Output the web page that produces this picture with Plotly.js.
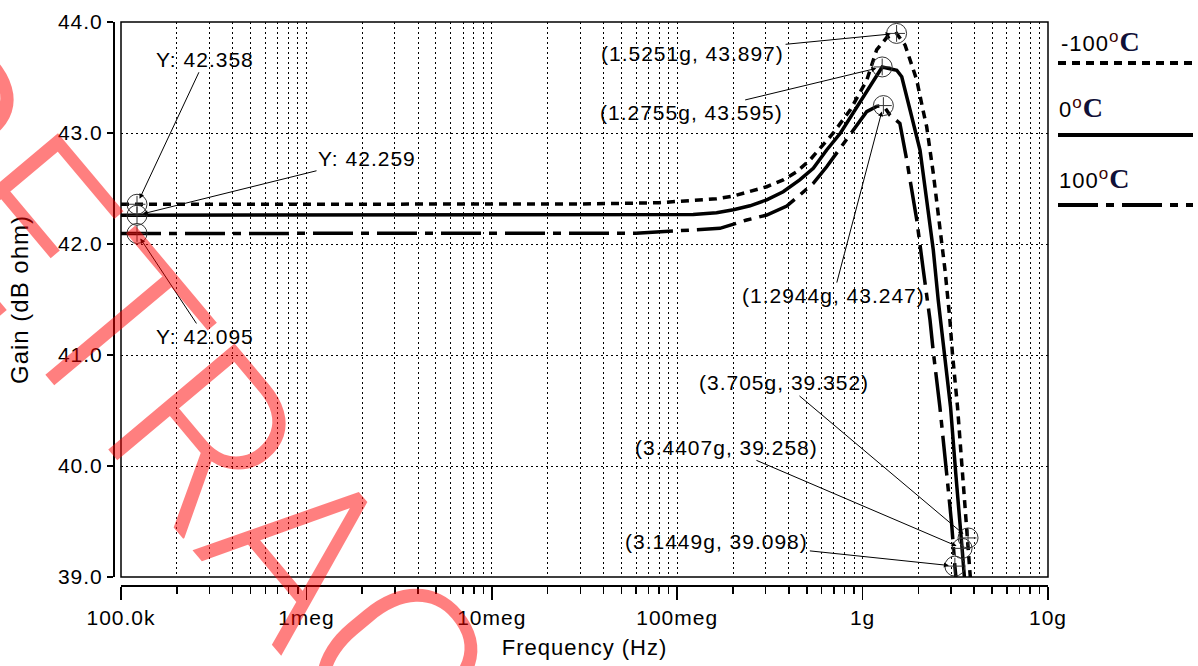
<!DOCTYPE html>
<html><head><meta charset="utf-8">
<script src="https://cdn.plot.ly/plotly-3.0.1.min.js"></script>
<style>
html,body{margin:0;padding:0;background:#fff;}
#chart{width:1198px;height:666px;}
svg text{letter-spacing:1px;}
</style></head><body><div id="chart"></div>
<script>
// ---- data ----
const tickVals = [1e5, 1e6, 1e7, 1e8, 1e9, 1e10];
const tickText = ['100.0k', '1meg', '10meg', '100meg', '1g', '10g'];
const seriesNames = ['-100°C', '0°C', '100°C'];

const freqM100 = [1e5, 3e7, 8e7, 1.22e8, 1.63e8, 2.01e8, 2.47e8, 3.04e8, 3.73e8, 4.41e8, 5.2e8, 6.14e8, 6.95e8, 8.57e8, 1.054e9, 1.19e9, 1.35e9, 1.5251e9, 1.694e9, 1.841e9, 1.959e9, 2.126e9, 2.216e9, 2.406e9, 2.616e9, 2.783e9, 2.958e9, 3.05e9, 3.25e9, 3.46e9, 3.6e9, 3.705e9, 3.85e9];
const gainM100 = [42.358, 42.36, 42.372, 42.39, 42.408, 42.432, 42.471, 42.516, 42.577, 42.651, 42.757, 42.9, 43.0, 43.207, 43.477, 43.748, 43.86, 43.897, 43.793, 43.613, 43.477, 43.192, 43.057, 42.637, 42.126, 41.766, 41.315, 41.018, 40.534, 39.934, 39.55, 39.352, 38.9];

const freq0 = [1e5, 5e7, 1.22e8, 1.63e8, 2.01e8, 2.47e8, 3.04e8, 3.73e8, 4.58e8, 5.42e8, 6.4e8, 7.6e8, 1.01e9, 1.167e9, 1.2755e9, 1.528e9, 1.626e9, 1.803e9, 2.04e9, 2.216e9, 2.406e9, 2.558e9, 2.75e9, 2.98e9, 3.18e9, 3.33e9, 3.4407e9, 3.58e9];
const gain0 = [42.259, 42.261, 42.265, 42.282, 42.308, 42.344, 42.398, 42.471, 42.577, 42.682, 42.847, 43.0, 43.327, 43.507, 43.595, 43.565, 43.507, 43.207, 42.847, 42.396, 41.946, 41.495, 41.015, 40.534, 39.934, 39.48, 39.258, 38.9];

const freq100 = [1e5, 6e7, 1.7e8, 2.37e8, 3.04e8, 3.9e8, 4.58e8, 5.42e8, 6.4e8, 7.24e8, 8.2e8, 9.29e8, 1.052e9, 1.19e9, 1.2944e9, 1.406e9, 1.589e9, 1.73e9, 1.96e9, 2.125e9, 2.31e9, 2.4e9, 2.61e9, 2.84e9, 3.02e9, 3.1449e9, 3.25e9];
const gain100 = [42.095, 42.097, 42.141, 42.216, 42.261, 42.342, 42.441, 42.547, 42.696, 42.817, 42.937, 43.057, 43.192, 43.24, 43.247, 43.16, 43.087, 42.757, 42.216, 41.766, 41.315, 41.045, 40.534, 39.934, 39.484, 39.098, 38.85];

const markerFreq = [1.22e5, 1.22e5, 1.22e5, 1.5251e9, 1.2755e9, 1.2944e9, 3.705e9, 3.4407e9, 3.1449e9];
const markerGain = [42.358, 42.259, 42.095, 43.897, 43.595, 43.247, 39.352, 39.258, 39.098];
const markerLabels = ['Y: 42.358', 'Y: 42.259', 'Y: 42.095', '(1.5251g, 43.897)', '(1.2755g, 43.595)', '(1.2944g, 43.247)', '(3.705g, 39.352)', '(3.4407g, 39.258)', '(3.1449g, 39.098)'];

const watermarkText = 'RETRACTED';

// ---- layout helpers ----
const ML = 113, MR = 150, MT = 22, MB = 81, W = 1198, H = 666;
const PW = W - ML - MR, PH = H - MT - MB;
const px = x => (x - ML) / PW;
const py = y => (H - MB - y) / PH;
const labelOffsets = [[68, -145], [230, -57], [68, 103], [-204, 20], [-191, 46], [-50, 190], [-184, -155], [-236, -101], [-238, -25]];
const FONT = 'Liberation Sans, Arial, sans-serif';
const dashStyles = ['8px,6px', 'solid', '40px,8px,8px,8px'];

const minorVals = [];
for (let d = 5; d < 10; d++) for (let k = 2; k <= 9; k++) minorVals.push(k * Math.pow(10, d));

const traces = [
  {x: freqM100, y: gainM100, name: seriesNames[0], mode: 'lines', line: {color: '#000', width: 3.5, dash: dashStyles[0]}},
  {x: freq0, y: gain0, name: seriesNames[1], mode: 'lines', line: {color: '#000', width: 3.5, dash: dashStyles[1]}},
  {x: freq100, y: gain100, name: seriesNames[2], mode: 'lines', line: {color: '#000', width: 3.5, dash: dashStyles[2]}},
  {x: markerFreq, y: markerGain, mode: 'markers', marker: {symbol: 'circle-open', size: 20, color: '#333', line: {width: 1, color: '#333'}}, hoverinfo: 'skip'},
  {x: markerFreq, y: markerGain, mode: 'markers', marker: {symbol: 'cross-thin-open', size: 12, color: '#333', line: {width: 1, color: '#333'}}, hoverinfo: 'skip'}
];

const annotations = markerLabels.map((t, i) => ({
  x: Math.log10(markerFreq[i]), y: markerGain[i], xref: 'x', yref: 'y',
  text: t, showarrow: true, ax: labelOffsets[i][0], ay: labelOffsets[i][1],
  arrowhead: 2, arrowsize: 1, arrowwidth: 1, arrowcolor: '#000', standoff: 6,
  font: {family: FONT, size: 21, color: '#000'}
}));

const serif = "font-family:'Liberation Serif','Times New Roman',serif;font-weight:bold;font-size:28px;color:#101038";
const supst = "color:#3c0000;font-size:17px";
const legendTexts = [
  ['-100<sup><span style="' + supst + '">o</span></sup><span style="' + serif + '">C</span>', 1059, 42],
  ['0<sup><span style="' + supst + '">o</span></sup><span style="' + serif + '">C</span>', 1057, 108],
  ['100<sup><span style="' + supst + '">o</span></sup><span style="' + serif + '">C</span>', 1057, 178]
];
legendTexts.forEach(l => annotations.push({
  x: px(l[1]), y: py(l[2]), xref: 'paper', yref: 'paper', xanchor: 'left', yanchor: 'middle',
  text: l[0], showarrow: false, font: {family: FONT, size: 22, color: '#000'}
}));

annotations.push({
  x: px(298), y: py(553), xref: 'paper', yref: 'paper', xanchor: 'center', yanchor: 'middle',
  text: watermarkText, showarrow: false, textangle: 50,
  font: {family: 'Roboto, Liberation Sans, sans-serif', size: 232, weight: 300, color: 'rgba(255,0,0,0.5)'}
});

const legendLineY = [63, 135, 205];
const shapes = [
  {type: 'rect', xref: 'x domain', yref: 'y domain', x0: 0, x1: 1, y0: 0, y1: 1, line: {color: '#000', width: 1.5}}
];
legendLineY.forEach((yy, i) => shapes.push({
  type: 'line', xref: 'paper', yref: 'paper', x0: px(1058), x1: px(1193), y0: py(yy), y1: py(yy),
  line: {color: '#000', width: 4, dash: dashStyles[i]}
}));

const layout = {
  width: W, height: H, margin: {l: ML, r: MR, t: MT, b: MB},
  paper_bgcolor: '#fff', plot_bgcolor: '#fff', showlegend: false,
  xaxis: {
    type: 'log', range: [5, 10], domain: [8 / PW, 1], anchor: 'free', position: 0,
    tickmode: 'array', tickvals: tickVals, ticktext: tickText,
    ticks: 'outside', ticklen: 13, tickwidth: 1.5, tickcolor: '#000',
    showline: true, linecolor: '#000', linewidth: 1.5,
    showgrid: true, gridcolor: '#000', gridwidth: 1, griddash: '2px,3px',
    minor: {tickmode: 'array', tickvals: minorVals, ticks: 'outside', ticklen: 7, tickwidth: 1.5, tickcolor: '#000',
            showgrid: true, gridcolor: '#000', gridwidth: 1, griddash: '2px,3px'},
    zeroline: false, tickfont: {family: FONT, size: 21, color: '#000'},
    title: {text: 'Frequency (Hz)', font: {family: FONT, size: 22, color: '#000'}, standoff: 12}
  },
  yaxis: {
    range: [39, 44], domain: [8 / PH, 1], anchor: 'free', position: 0,
    dtick: 1, tick0: 39, tickformat: '.1f',
    ticks: 'outside', ticklen: 6, tickwidth: 1.5, tickcolor: '#000',
    showline: true, linecolor: '#000', linewidth: 1.5,
    showgrid: true, gridcolor: '#000', gridwidth: 1, griddash: '2px,3px',
    zeroline: false, tickfont: {family: FONT, size: 21, color: '#000'},
    title: {text: 'Gain (dB ohm)', font: {family: FONT, size: 24, color: '#000'}, standoff: 21}
  },
  annotations: annotations,
  shapes: shapes
};

Plotly.newPlot('chart', traces, layout, {displayModeBar: false, staticPlot: true});
</script></body></html>
